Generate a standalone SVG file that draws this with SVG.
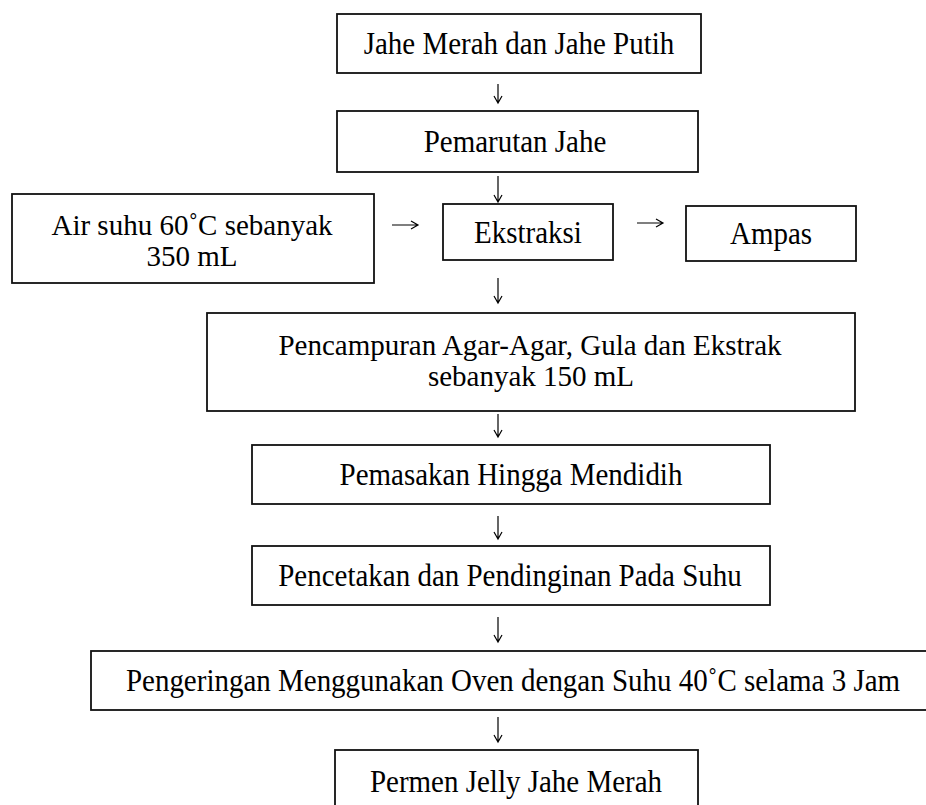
<svg xmlns="http://www.w3.org/2000/svg" width="926" height="805" viewBox="0 0 926 805">
<style>
.box{fill:#fff;stroke:#111;stroke-width:1.8}
.t{font-family:"Liberation Serif","Times New Roman",serif;font-size:29px;fill:#000;text-anchor:middle}
.c{fill:none;stroke:#000;stroke-width:1.2}
</style>
<rect width="926" height="805" fill="#fff"/>
<g id="connectors">
<path class="c" d="M498,84V103M494,96L498,103L502,96"/>
<path class="c" d="M498,176V202M494,195L498,202L502,195"/>
<path class="c" d="M498,278V303M494,296L498,303L502,296"/>
<path class="c" d="M498,414V437M494,430L498,437L502,430"/>
<path class="c" d="M498,516V539M494,532L498,539L502,532"/>
<path class="c" d="M498,617V642M494,635L498,642L502,635"/>
<path class="c" d="M498,717V742M494,735L498,742L502,735"/>
<path class="c" d="M392,225H418M411,221L418,225L411,229"/>
<path class="c" d="M637,223H663M656,219L663,223L656,227"/>
</g>
<g id="n1"><rect class="box" x="337" y="14" width="364" height="59"/><text class="t" transform="translate(519,54) scale(1,1.12)">Jahe Merah dan Jahe Putih</text></g>
<g id="n2"><rect class="box" x="337" y="111" width="361" height="61"/><text class="t" transform="translate(515,152) scale(1,1.12)">Pemarutan Jahe</text></g>
<g id="n3"><rect class="box" x="12" y="194" width="362" height="89"/><text class="t" x="192" y="235">Air suhu 60˚C sebanyak</text><text class="t" x="192" y="266">350 mL</text></g>
<g id="n4"><rect class="box" x="443" y="204" width="170" height="56"/><text class="t" transform="translate(528,243) scale(1,1.12)">Ekstraksi</text></g>
<g id="n5"><rect class="box" x="686" y="206" width="170" height="55"/><text class="t" transform="translate(771,244) scale(1,1.12)">Ampas</text></g>
<g id="n6"><rect class="box" x="207" y="313" width="648" height="98"/><text class="t" x="530" y="355">Pencampuran Agar-Agar, Gula dan Ekstrak</text><text class="t" x="531" y="386">sebanyak 150 mL</text></g>
<g id="n7"><rect class="box" x="252" y="445" width="518" height="59"/><text class="t" transform="translate(511,485) scale(1,1.12)">Pemasakan Hingga Mendidih</text></g>
<g id="n8"><rect class="box" x="252" y="546" width="518" height="59"/><text class="t" transform="translate(510,586) scale(1,1.12)">Pencetakan dan Pendinginan Pada Suhu</text></g>
<g id="n9"><rect class="box" x="91" y="651" width="845" height="59"/><text class="t" transform="translate(513,691) scale(1,1.12)">Pengeringan Menggunakan Oven dengan Suhu 40˚C selama 3 Jam</text></g>
<g id="n10"><rect class="box" x="335" y="750" width="363" height="70"/><text class="t" transform="translate(516,792) scale(1,1.12)">Permen Jelly Jahe Merah</text></g>
</svg>
